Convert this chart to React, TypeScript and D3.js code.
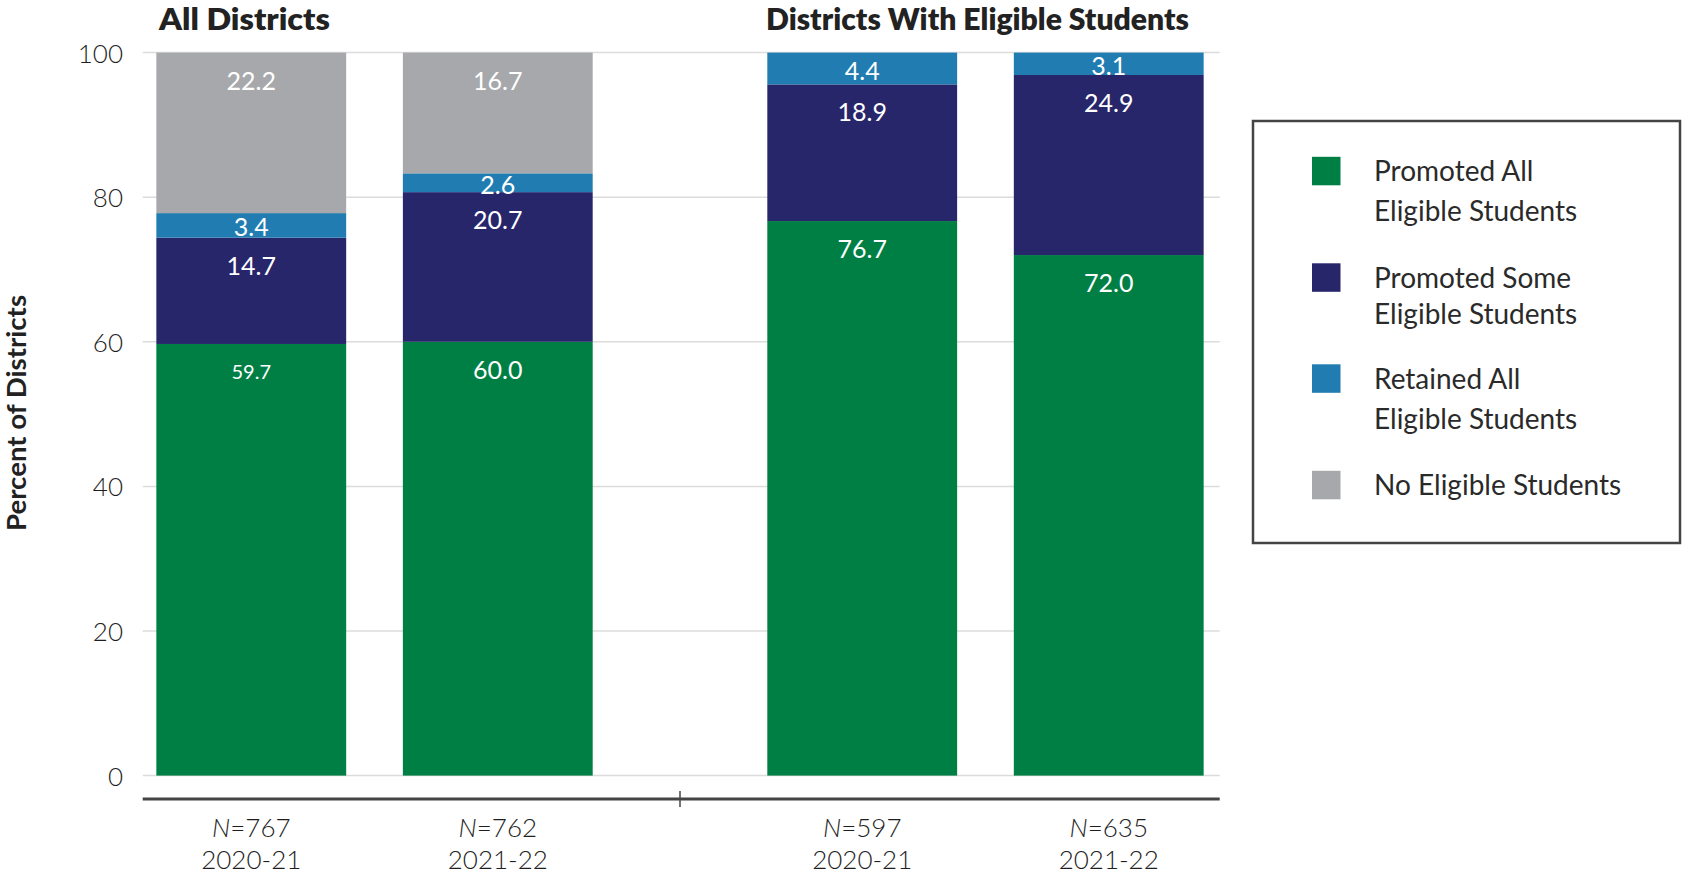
import React from "react";
import * as d3 from "d3";

const groups = ["All Districts", "Districts With Eligible Students"];
const years = ["2020-21", "2021-22"];
const nCounts = [767, 762, 597, 635];
const seriesKeys = ["promotedAll", "promotedSome", "retainedAll", "noEligible"];
const seriesLabels = [
  ["Promoted All", "Eligible Students"],
  ["Promoted Some", "Eligible Students"],
  ["Retained All", "Eligible Students"],
  ["No Eligible Students"],
];
const seriesColors = ["#007f45", "#27266b", "#217db1", "#a7a8ab"];
const promotedAll = [59.7, 60.0, 76.7, 72.0];
const promotedSome = [14.7, 20.7, 18.9, 24.9];
const retainedAll = [3.4, 2.6, 4.4, 3.1];
const noEligible = [22.2, 16.7, 0, 0];
const yTicks = [0, 20, 40, 60, 80, 100];

const W = 1682;
const H = 876;
const FONT = "Lato, 'Open Sans', sans-serif";

export default function App() {
  const rows = nCounts.map((n, i) => ({
    group: groups[Math.floor(i / 2)],
    year: years[i % 2],
    n,
    promotedAll: promotedAll[i],
    promotedSome: promotedSome[i],
    retainedAll: retainedAll[i],
    noEligible: noEligible[i],
  }));

  const y = d3.scaleLinear().domain([0, 100]).range([775.6, 52.6]);
  const xGroup = d3.scaleBand<string>().domain(groups).range([128, 1232]).paddingInner(0.193).paddingOuter(0);
  const xYear = d3
    .scaleBand<string>()
    .domain(years)
    .range([0, xGroup.bandwidth()])
    .paddingInner(0.23)
    .paddingOuter(0.115);
  const bx = (r: any) => (xGroup(r.group) as number) + (xYear(r.year) as number);
  const bw = xYear.bandwidth();

  const stacked = d3.stack<any>().keys(seriesKeys)(rows);
  const fmt = d3.format(".1f");

  const gridX0 = 142.7;
  const gridX1 = 1219.7;
  const axisY = 799;
  const midTick = ((xGroup(groups[0]) as number) + xGroup.bandwidth() + (xGroup(groups[1]) as number)) / 2;

  const legendX = 1253;
  const legendY = 121;
  const swatchCenters = [171, 277.5, 378.5, 485];
  const lineGap = [40, 36, 40, 0];

  return (
    <svg width={W} height={H} style={{ position: "absolute", left: 0, top: 0, background: "#fff" }} fontFamily={FONT}>
      {/* gridlines */}
      {yTicks.map((t) => (
        <g key={t}>
          <line x1={gridX0} x2={gridX1} y1={y(t)} y2={y(t)} stroke="#dcdcdc" strokeWidth={1.5} />
          <text x={123} y={y(t)} textAnchor="end" dominantBaseline="central" fontSize={26} fontWeight={300} fill="#1e1e1e">
            {t}
          </text>
        </g>
      ))}

      {/* bars */}
      {stacked.map((s, si) =>
        s.map((d, i) => {
          const h = y(d[0]) - y(d[1]);
          if (h <= 0) return null;
          return (
            <rect key={`${si}-${i}`} x={bx(rows[i])} y={y(d[1])} width={bw} height={h} fill={seriesColors[si]} />
          );
        })
      )}

      {/* value labels */}
      {stacked.map((s, si) =>
        s.map((d, i) => {
          const v = d[1] - d[0];
          if (v <= 0) return null;
          const top = y(d[1]);
          const h = y(d[0]) - top;
          const cy = top + Math.min(27, h / 2 + 1);
          const small = si === 0 && i === 0;
          return (
            <text
              key={`l${si}-${i}`}
              x={bx(rows[i]) + bw / 2}
              y={cy}
              textAnchor="middle"
              dominantBaseline="central"
              fill="#fff"
              fontSize={small ? 20 : 25}
            >
              {fmt(v)}
            </text>
          );
        })
      )}

      {/* axis line */}
      <line x1={gridX0} x2={gridX1} y1={axisY} y2={axisY} stroke="#444" strokeWidth={3} />
      <line x1={midTick} x2={midTick} y1={axisY - 8} y2={axisY + 8} stroke="#444" strokeWidth={1.5} />

      {/* category labels */}
      {rows.map((r, i) => (
        <g key={`c${i}`}>
          <text x={bx(r) + bw / 2} y={837} textAnchor="middle" fontSize={26} fontWeight={300} fill="#1e1e1e">
            <tspan fontStyle="italic">N</tspan>
            <tspan>={r.n}</tspan>
          </text>
          <text x={bx(r) + bw / 2} y={869} textAnchor="middle" fontSize={26} fontWeight={300} fill="#1e1e1e">
            {r.year}
          </text>
        </g>
      ))}

      {/* group titles */}
      <text x={159} y={30} fontSize={30} fontWeight={800} fill="#222" textLength={171} lengthAdjust="spacingAndGlyphs">
        {groups[0]}
      </text>
      <text x={766} y={30} fontSize={30} fontWeight={800} fill="#222" textLength={423} lengthAdjust="spacingAndGlyphs">
        {groups[1]}
      </text>

      {/* y-axis title */}
      <text
        transform={`translate(26,413) rotate(-90)`}
        textAnchor="middle"
        fontSize={27}
        fontWeight={700}
        fill="#222"
        textLength={236}
        lengthAdjust="spacingAndGlyphs"
      >
        Percent of Districts
      </text>

      {/* legend */}
      <rect x={legendX} y={legendY} width={427} height={422} fill="#fff" stroke="#444" strokeWidth={2.5} />
      {seriesLabels.map((lines, i) => (
        <g key={`lg${i}`}>
          <rect x={1312} y={swatchCenters[i] - 14.2} width={28.5} height={28.5} fill={seriesColors[i]} />
          {lines.map((ln, j) => (
            <text key={j} x={1374} y={swatchCenters[i] + 10 + j * lineGap[i]} fontSize={28} fill="#2a2a2a">
              {ln}
            </text>
          ))}
        </g>
      ))}
    </svg>
  );
}
